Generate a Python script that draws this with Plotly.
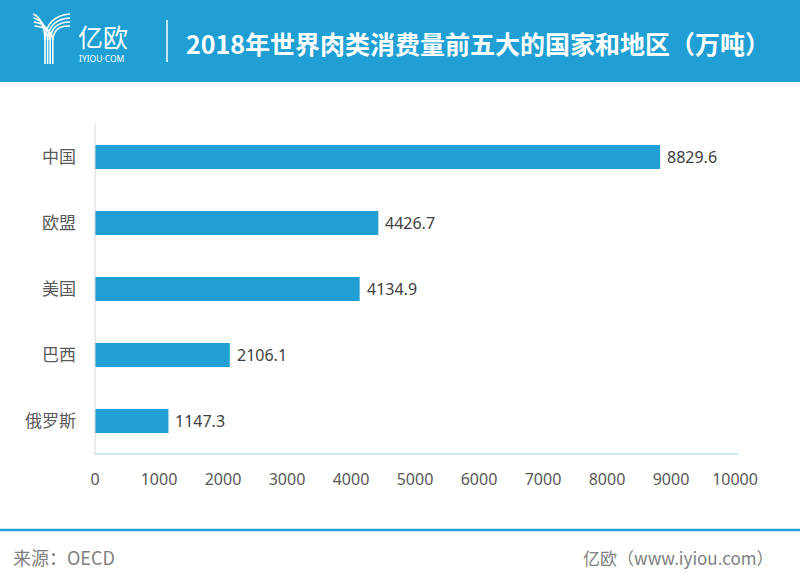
import plotly.graph_objects as go

categories = ["中国", "欧盟", "美国", "巴西", "俄罗斯"]
values = [8829.6, 4426.7, 4134.9, 2106.1, 1147.3]
tick_vals = [0, 1000, 2000, 3000, 4000, 5000, 6000, 7000, 8000, 9000, 10000]
tick_text = [str(t) for t in tick_vals]
title_text = "2018年世界肉类消费量前五大的国家和地区（万吨）"
source_text = "来源：OECD"
brand_text = "亿欧（www.iyiou.com）"

W, H = 800, 584
L, R, T, B = 95, 65, 124, 130
PW, PH = W - L - R, H - T - B
BLUE = "#1f9fd3"


def px(x):
    return (x - L) / PW


def py(y):
    return (H - B - y) / PH


fig = go.Figure()
fig.add_trace(go.Bar(
    x=values, y=categories, orientation="h",
    marker=dict(color=BLUE, line=dict(width=0)),
    width=0.36, hoverinfo="x+y",
))

shapes = []
shapes.append(dict(type="rect", xref="paper", yref="paper",
                   x0=px(-2), x1=px(W + 2), y0=py(82), y1=py(-2),
                   fillcolor=BLUE, line=dict(width=0), layer="below"))
shapes.append(dict(type="line", xref="paper", yref="paper",
                   x0=px(167), x1=px(167), y0=py(20), y1=py(62),
                   line=dict(color="white", width=1.5)))
shapes.append(dict(type="line", xref="paper", yref="paper",
                   x0=px(0), x1=px(W), y0=py(530), y1=py(530),
                   line=dict(color=BLUE, width=2.5)))
shapes.append(dict(type="line", xref="paper", yref="paper",
                   x0=0, x1=0, y0=0, y1=py(123),
                   line=dict(color="#d9d9d9", width=1)))
shapes.append(dict(type="line", xref="paper", yref="paper",
                   x0=0, x1=px(738), y0=0, y1=0,
                   line=dict(color="#9dd3ea", width=1.2)))

# logo Y strokes
for i in range(4):
    sx = 45 + i * 2.6
    p = (f"M {px(33 + i*0.5)},{py(14 + i*4)} "
         f"Q {px(sx - 1)},{py(18 + i*3)} {px(sx)},{py(40)} "
         f"L {px(sx)},{py(64)}")
    shapes.append(dict(type="path", xref="paper", yref="paper", path=p,
                       line=dict(color="white", width=1.6)))
for i in range(4):
    sx = 45 + i * 2.6
    p = (f"M {px(sx)},{py(40)} "
         f"Q {px(sx + 1)},{py(16 + i*3)} {px(70)},{py(14 + i*4)}")
    shapes.append(dict(type="path", xref="paper", yref="paper", path=p,
                       line=dict(color="white", width=1.6)))

annotations = [
    dict(text="亿欧", xref="paper", yref="paper", x=px(76), y=py(36),
         xanchor="left", yanchor="middle", showarrow=False,
         font=dict(size=25, color="white", family="Noto Sans CJK SC")),
    dict(text="IYIOU·COM", xref="paper", yref="paper", x=px(77), y=py(59),
         xanchor="left", yanchor="middle", showarrow=False,
         font=dict(size=8.5, color="white", family="Noto Sans")),
    dict(text=f"<b>{title_text}</b>", xref="paper", yref="paper", x=px(184), y=py(43),
         xanchor="left", yanchor="middle", showarrow=False,
         font=dict(size=25, color="white", family="Noto Sans CJK SC")),
    dict(text=source_text, xref="paper", yref="paper", x=px(11), y=py(557),
         xanchor="left", yanchor="middle", showarrow=False,
         font=dict(size=18, color="#808080", family="Noto Sans CJK SC")),
    dict(text=brand_text, xref="paper", yref="paper", x=px(776), y=py(557),
         xanchor="right", yanchor="middle", showarrow=False,
         font=dict(size=17, color="#808080", family="Noto Sans CJK SC")),
]
for c, v in zip(categories, values):
    annotations.append(dict(
        x=v, y=c, xref="x", yref="y", text=f"{v:.1f}", showarrow=False,
        xanchor="left", yanchor="middle", xshift=5,
        font=dict(size=16, color="#404040", family="Noto Sans")))

fig.update_layout(
    width=W, height=H,
    margin=dict(l=L, r=R, t=T, b=B, autoexpand=False),
    paper_bgcolor="white", plot_bgcolor="white",
    showlegend=False,
    shapes=shapes, annotations=annotations,
    xaxis=dict(range=[0, 10000], tickvals=tick_vals, ticktext=tick_text,
               showgrid=False, zeroline=False, showline=False, ticks="",
               tickfont=dict(size=16, color="#595959", family="Noto Sans"),
               ticklabelstandoff=14),
    yaxis=dict(categoryorder="array", categoryarray=categories,
               autorange=False, range=[4.5, -0.5], showgrid=False,
               zeroline=False, showline=False, ticks="",
               tickfont=dict(size=17, color="#595959", family="Noto Sans CJK SC"),
               ticklabelstandoff=18),
)

fig.write_html("out.html", config={"displayModeBar": False},
               post_script="document.body.style.margin='0';document.body.style.overflow='hidden';")
